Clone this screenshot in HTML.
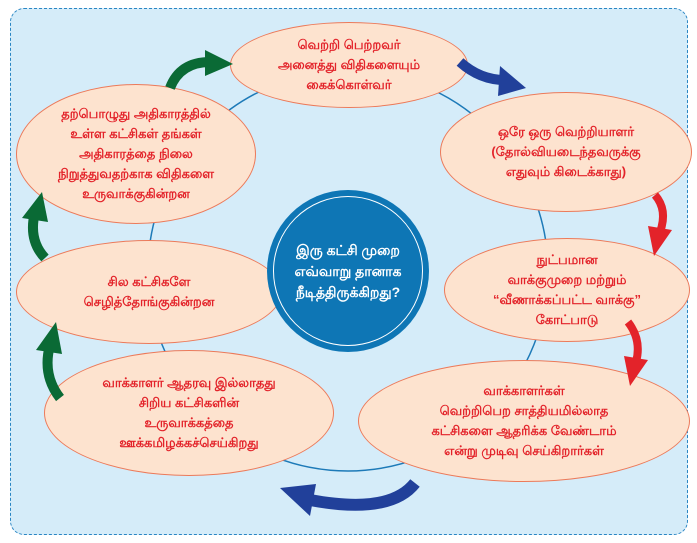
<!DOCTYPE html>
<html><head><meta charset="utf-8"><style>
body{margin:0;width:697px;height:543px;background:#fff;overflow:hidden;font-family:"Liberation Sans","Noto Sans CJK JP",sans-serif}
.frame{position:absolute;left:10px;top:8px;width:676px;height:525px;border:1.5px dashed #2a86c4;border-radius:14px;background:#d5ecf9}
.el{position:absolute;background:#fde3cf;border:1.5px solid #ec7a5a;border-radius:50%;display:flex;align-items:center;justify-content:center;text-align:center;color:#e3232a;font-weight:bold;font-size:13px;line-height:20px}
.c{position:absolute;left:267px;top:190px;width:162px;height:162px;border-radius:50%;background:#0e76b5;display:flex;align-items:center;justify-content:center;text-align:center;color:#fff;font-weight:bold;font-size:14px;line-height:21px}
.c:before{content:"";position:absolute;left:6px;top:6px;right:6px;bottom:6px;border:1px solid #fff;border-radius:50%}
svg{position:absolute;left:0;top:0}
</style></head><body>
<div class="frame"></div>
<svg width="697" height="543"><circle cx="348" cy="271" r="200" fill="none" stroke="#1d7ab8" stroke-width="1.5"/></svg>
<div class="el" style="left:230px;top:22px;width:236px;height:84px">வெற்றி பெற்றவர்<br>அனைத்து விதிகளையும்<br>கைக்கொள்வர்</div>
<div class="el" style="left:440px;top:92px;width:250px;height:118px">ஒரே ஒரு வெற்றியாளர்<br>(தோல்வியடைந்தவருக்கு<br>எதுவும் கிடைக்காது)</div>
<div class="el" style="left:444px;top:238px;width:244px;height:102px">நுட்பமான<br>வாக்குமுறை மற்றும்<br>“வீணாக்கப்பட்ட வாக்கு”<br>கோட்பாடு</div>
<div class="el" style="left:358px;top:360px;width:330px;height:120px">வாக்காளர்கள்<br>வெற்றிபெற சாத்தியமில்லாத<br>கட்சிகளை ஆதரிக்க வேண்டாம்<br>என்று முடிவு செய்கிறார்கள்</div>
<div class="el" style="left:44px;top:350px;width:288px;height:124px">வாக்காளர் ஆதரவு இல்லாதது<br>சிறிய கட்சிகளின்<br>உருவாக்கத்தை<br>ஊக்கமிழக்கச்செய்கிறது</div>
<div class="el" style="left:16px;top:240px;width:264px;height:102px">சில கட்சிகளே<br>செழித்தோங்குகின்றன</div>
<div class="el" style="left:16px;top:84px;width:238px;height:138px">தற்பொழுது அதிகாரத்தில்<br>உள்ள கட்சிகள் தங்கள்<br>அதிகாரத்தை நிலை<br>நிறுத்துவதற்காக விதிகளை<br>உருவாக்குகின்றன</div>
<div class="c"><div>இரு கட்சி முறை<br>எவ்வாறு தானாக<br>நீடித்திருக்கிறது?</div></div>
<svg width="697" height="543">
<path d="M170 88 Q180 62 210 62" fill="none" stroke="#0a6a35" stroke-width="10"/><polygon points="205,50 233,64 205,76" fill="#0a6a35"/>
<path d="M45 258 Q28 240 35 212" fill="none" stroke="#0a6a35" stroke-width="10"/><polygon points="22,218 42,192 48,222" fill="#0a6a35"/>
<path d="M60 398 Q42 375 50 345" fill="none" stroke="#0a6a35" stroke-width="10"/><polygon points="36,350 56,322 62,354" fill="#0a6a35"/>
<path d="M460 62 Q480 80 505 80" fill="none" stroke="#21409a" stroke-width="10"/><polygon points="500,66 526,88 498,96" fill="#21409a"/>
<path d="M655 195 Q668 210 660 232" fill="none" stroke="#e3232a" stroke-width="8"/><polygon points="648,226 672,230 654,256" fill="#e3232a"/>
<path d="M628 322 Q642 340 636 362" fill="none" stroke="#e3232a" stroke-width="8"/><polygon points="624,356 648,360 630,386" fill="#e3232a"/>
<path d="M415 483 Q390 515 310 500" fill="none" stroke="#21409a" stroke-width="12"/><polygon points="316,484 280,488 310,516" fill="#21409a"/>
</svg>
</body></html>
